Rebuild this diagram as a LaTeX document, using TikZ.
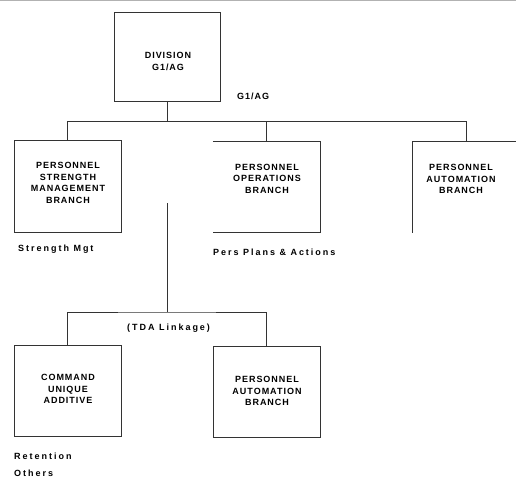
\documentclass[tikz,border=0pt]{standalone}
\usepackage{fontspec}
\newfontfamily\capf[LetterSpace=11]{Liberation Sans}
\newfontfamily\lowf[LetterSpace=22]{Liberation Sans}
\begin{document}
\begin{tikzpicture}[x=1pt,y=-1pt,
  ln/.style={draw=black!80, line width=0.7pt},
  boxn/.style={rectangle, minimum width=107pt, minimum height=91pt, inner sep=0pt},
  captxt/.style={font=\capf\bfseries\fontsize{9}{11.6}\selectfont, align=center, inner sep=0pt, text=black},
  lowtxt/.style={font=\lowf\bfseries\fontsize{9}{10}\selectfont, inner sep=0pt, anchor=west, text=black}]
\useasboundingbox (0,0) rectangle (516,479);
\fill[white] (0,0) rectangle (516,479);
\draw[black!30, line width=1.4pt] (0,0.7) -- (516,0.7);

% top box
\node[boxn, ln, minimum width=106pt, minimum height=89pt] (div) at (167,56.5) {};
\node[captxt] (divt) at (168,61.5) {DIVISION\\G1/AG};
\node[lowtxt, font=\capf\bfseries\fontsize{9}{10}\selectfont] (g1) at (237,96) {G1/AG};

% second level
\node[boxn, ln, minimum height=92pt] (ssm) at (67.5,186) {};
\node[captxt] (ssmt) at (68,183) {PERSONNEL\\STRENGTH\\MANAGEMENT\\BRANCH};
\node[boxn] (ops) at (266.5,187) {};
\draw[ln] (ops.north west) -- (ops.north east) -- (ops.south east) -- (ops.south west);
\node[captxt] (opst) at (267,178.5) {PERSONNEL\\OPERATIONS\\BRANCH};
\node[boxn] (aut1) at (466.5,187.5) {};
\draw[ln] (aut1.north east) -- (aut1.north west) -- (aut1.south west);
\node[captxt] (aut1t) at (461,179) {PERSONNEL\\AUTOMATION\\BRANCH};

\node[lowtxt] (smg) at (18,249) {Strength Mgt};
\node[lowtxt] (ppa) at (213,252) {Pers Plans \& Actions};

% upper connectors
\coordinate (tb) at ([yshift=-20pt]div.south);
\draw[ln] (div.south) -- (tb);
\draw[ln] (ssm.north) |- (tb) -| (aut1.north);
\draw[ln] (tb) -| (ops.north);

% lower level
\coordinate (lk) at (167,203);
\coordinate (lb) at (167,312);
\node[boxn, ln] (cua) at (67.5,390.5) {};
\node[captxt] (cuat) at (68,389) {COMMAND\\UNIQUE\\ADDITIVE};
\node[boxn, ln] (pab) at (266.5,391.5) {};
\node[captxt] (pabt) at (267,391) {PERSONNEL\\AUTOMATION\\BRANCH};
\draw[ln] (lk) -- (lb);
\draw[ln] (cua.north) |- (lb) -| (pab.north);
\node[lowtxt] (tda) at (127,328) {(TDA Linkage)};

\node[lowtxt] (ret) at (14,456) {Retention};
\node[lowtxt] (oth) at (14,473) {Others};
\end{tikzpicture}
\end{document}
